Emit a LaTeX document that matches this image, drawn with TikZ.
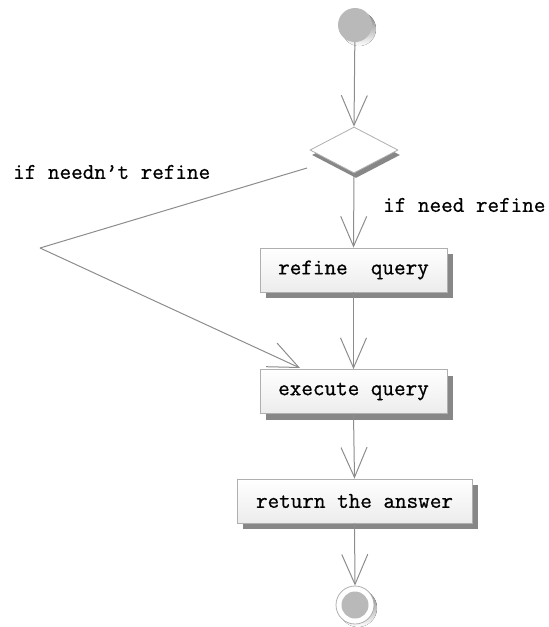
\documentclass[tikz,border=0pt]{standalone}
\usepackage{fontspec}
\newfontfamily\labelfont[FakeBold=0.8]{Latin Modern Mono}
\usetikzlibrary{shapes.geometric,arrows.meta,shadows}
\definecolor{flowline}{RGB}{140,140,140}
\definecolor{boxedge}{RGB}{175,175,175}
\definecolor{boxfill}{RGB}{236,236,236}
\definecolor{shade}{RGB}{135,135,135}
\definecolor{dotfill}{RGB}{185,185,185}
\begin{document}
\begin{tikzpicture}[x=1pt,y=-1pt,
  txt/.style={font=\labelfont\fontsize{22.5}{24}\selectfont},
  action/.style={draw=boxedge,line width=0.8pt,top color=white,bottom color=boxfill,
    inner sep=0pt,minimum height=44pt,txt,
    drop shadow={shadow xshift=6pt,shadow yshift=-6pt,fill=shade,opacity=1}},
  decision/.style={diamond,draw=boxedge,line width=0.8pt,fill=white,inner sep=0pt,
    minimum width=88pt,minimum height=46pt,
    drop shadow={shadow xshift=2pt,shadow yshift=-5pt,fill=shade,opacity=1}},
  flow/.style={draw=flowline,line width=1pt,
    -{Straight Barb[length=30pt,width=26pt,line width=1pt]}},
  plain/.style={draw=flowline,line width=1pt}]
\useasboundingbox (0,0) rectangle (549,627);

% initial and final states
\fill[shade] (359,29) circle[radius=17pt];
\node (start) [circle,fill=dotfill,inner sep=0pt,minimum size=34pt] at (355,25) {};
\fill[shade] (358,608) circle[radius=19pt];
\node (stop) [circle,draw=boxedge,line width=0.8pt,fill=white,inner sep=0pt,minimum size=38pt] at (355,605) {};
\fill[dotfill] (stop.center) circle[radius=13.5pt];

% decision and actions
\node (dec) [decision] at (354,150) {};
\node (refine) [action,minimum width=187pt] at (353.5,270) {refine\ \ query};
\node (exec) [action,minimum width=187pt] at (353.5,391.5) {execute query};
\node (ret) [action,minimum width=235pt] at (354.5,501) {return the answer};

% guard labels
\node (yes) [txt,anchor=west,inner sep=0pt] at (383,205) {if need refine};
\node (no) [txt,anchor=west,inner sep=0pt] at (13,172) {if needn’t refine};

% branch routing points
\coordinate (fork) at (307,168);
\coordinate (bend) at (40,248);
\coordinate (land) at (300,368);

% connectors
\draw[flow] (start) -- (dec.north);
\draw[flow] (dec.south) -- (refine.north);
\draw[flow] (refine.south) -- (exec.north);
\draw[flow] (exec.south) -- (ret.north);
\draw[flow] (ret.south) -- (stop.north);
\draw[plain] (fork) -- (bend);
\draw[flow] (bend) -- (land);
\end{tikzpicture}
\end{document}
